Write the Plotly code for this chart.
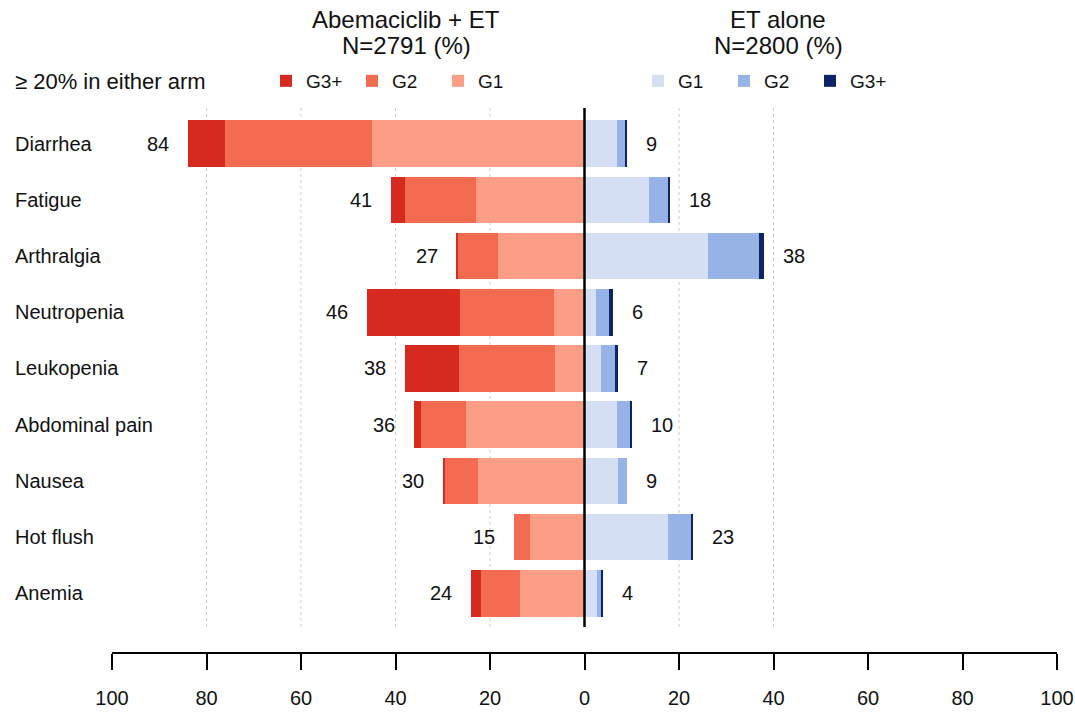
import plotly.graph_objects as go

# Adverse events reported in >= 20% of patients in either arm
categories = ["Diarrhea", "Fatigue", "Arthralgia", "Neutropenia", "Leukopenia",
              "Abdominal pain", "Nausea", "Hot flush", "Anemia"]

# Abemaciclib + ET arm (% of patients), by grade
abe_g1 = [45, 23, 18.3, 6.4, 6.2, 25.1, 22.6, 11.5, 13.6]
abe_g2 = [31, 15, 8.5, 20, 20.3, 9.4, 6.9, 3.5, 8.4]
abe_g3 = [8, 3, 0.2, 19.6, 11.5, 1.5, 0.5, 0, 2]

# ET alone arm (% of patients), by grade
et_g1 = [6.8, 13.6, 26.1, 2.5, 3.5, 6.9, 7.0, 17.7, 2.7]
et_g2 = [1.9, 4.1, 10.8, 2.6, 3.1, 2.75, 2.0, 4.8, 0.9]
et_g3 = [0.3, 0.3, 1.1, 0.9, 0.4, 0.35, 0, 0.5, 0.4]

tick_values = [-100, -80, -60, -40, -20, 0, 20, 40, 60, 80, 100]
grid_values = [-80, -60, -40, -20, 20, 40]

RED = {"G3+": "#d62a1f", "G2": "#f36b51", "G1": "#fc9d85"}
BLUE = {"G1": "#d4dff3", "G2": "#97b2e5", "G3+": "#0a2466"}

FONT = "Liberation Sans, Arial, sans-serif"
INK = "#111111"

# plot area in pixels (used to place paper-referenced text)
L, R, T, B = 112, 18, 108, 62
PW, PH = 1075 - L - R, 714 - T - B


def px_x(px):
    return (px - L) / PW


def px_y(py):
    return (714 - B - py) / PH


rows = list(range(len(categories)))
y_top, y_bottom = -0.635, 9.045
line_bottom = 8.6

fig = go.Figure()

# Left arm: values negative, stacked outward from zero (G1 innermost)
for name, vals in [("G1", abe_g1), ("G2", abe_g2), ("G3+", abe_g3)]:
    fig.add_trace(go.Bar(
        y=rows, x=[-v for v in vals], orientation="h", name=name,
        marker=dict(color=RED[name], line=dict(width=0)),
        width=0.83, legend="legend", hoverinfo="skip",
    ))

# Right arm
for name, vals in [("G1", et_g1), ("G2", et_g2), ("G3+", et_g3)]:
    fig.add_trace(go.Bar(
        y=rows, x=vals, orientation="h", name=name,
        marker=dict(color=BLUE[name], line=dict(width=0)),
        width=0.83, legend="legend2", hoverinfo="skip",
    ))

annotations = []
for i, cat in enumerate(categories):
    left_total = abe_g1[i] + abe_g2[i] + abe_g3[i]
    right_total = et_g1[i] + et_g2[i] + et_g3[i]
    annotations.append(dict(
        x=-left_total, y=i, xref="x", yref="y", text=f"{round(left_total)}",
        showarrow=False, xanchor="right", yanchor="middle", xshift=-17,
        font=dict(family=FONT, size=20, color=INK),
    ))
    annotations.append(dict(
        x=right_total, y=i, xref="x", yref="y", text=f"{round(right_total)}",
        showarrow=False, xanchor="left", yanchor="middle", xshift=17,
        font=dict(family=FONT, size=20, color=INK),
    ))
    annotations.append(dict(
        x=px_x(13), y=i, xref="paper", yref="y", text=cat,
        showarrow=False, xanchor="left", yanchor="middle",
        font=dict(family=FONT, size=20, color=INK),
    ))

# Arm headers
for cx, lines in [(406, ["Abemaciclib + ET", "N=2791 (%)"]),
                  (778, ["ET alone", "N=2800 (%)"])]:
    for cy, txt in zip([19, 45], lines):
        annotations.append(dict(
            x=px_x(cx), y=px_y(cy), xref="paper", yref="paper",
            text=txt, showarrow=False, xanchor="center", yanchor="middle",
            font=dict(family=FONT, size=24, color=INK),
        ))

annotations.append(dict(
    x=px_x(13), y=px_y(81), xref="paper", yref="paper",
    text="≥ 20% in either arm", showarrow=False,
    xanchor="left", yanchor="middle",
    font=dict(family=FONT, size=22, color=INK),
))

shapes = []
for g in grid_values:
    shapes.append(dict(
        type="line", xref="x", yref="y", x0=g, x1=g, y0=y_top, y1=line_bottom,
        line=dict(color="#cccccc", width=1, dash="dot"), layer="below",
    ))
shapes.append(dict(
    type="line", xref="x", yref="y", x0=0, x1=0, y0=y_top, y1=line_bottom,
    line=dict(color="black", width=2.5), layer="above",
))

legend_common = dict(
    orientation="h", xanchor="left", yanchor="middle",
    entrywidth=41, entrywidthmode="pixels",
    font=dict(family=FONT, size=19, color=INK),
    bgcolor="rgba(0,0,0,0)", borderwidth=0,
)

fig.update_layout(
    width=1075, height=714,
    margin=dict(l=L, r=R, t=T, b=B, autoexpand=False),
    paper_bgcolor="white", plot_bgcolor="white",
    barmode="relative", bargap=0,
    showlegend=True,
    legend=dict(x=px_x(266), y=px_y(81), traceorder="reversed", **legend_common),
    legend2=dict(x=px_x(638), y=px_y(81), traceorder="normal", **legend_common),
    xaxis=dict(
        range=[-100, 100], tickvals=tick_values,
        ticktext=[str(abs(v)) for v in tick_values],
        showgrid=False, zeroline=False, showline=True,
        linecolor="black", linewidth=1.5,
        ticks="outside", ticklen=16, tickwidth=1.5, tickcolor="black",
        ticklabelstandoff=11, ticklabeloverflow="allow",
        automargin=False,
        tickfont=dict(family=FONT, size=20, color=INK),
        fixedrange=True,
    ),
    yaxis=dict(range=[y_bottom, y_top], visible=False, fixedrange=True),
    annotations=annotations,
    shapes=shapes,
)

fig.write_html("out.html")
